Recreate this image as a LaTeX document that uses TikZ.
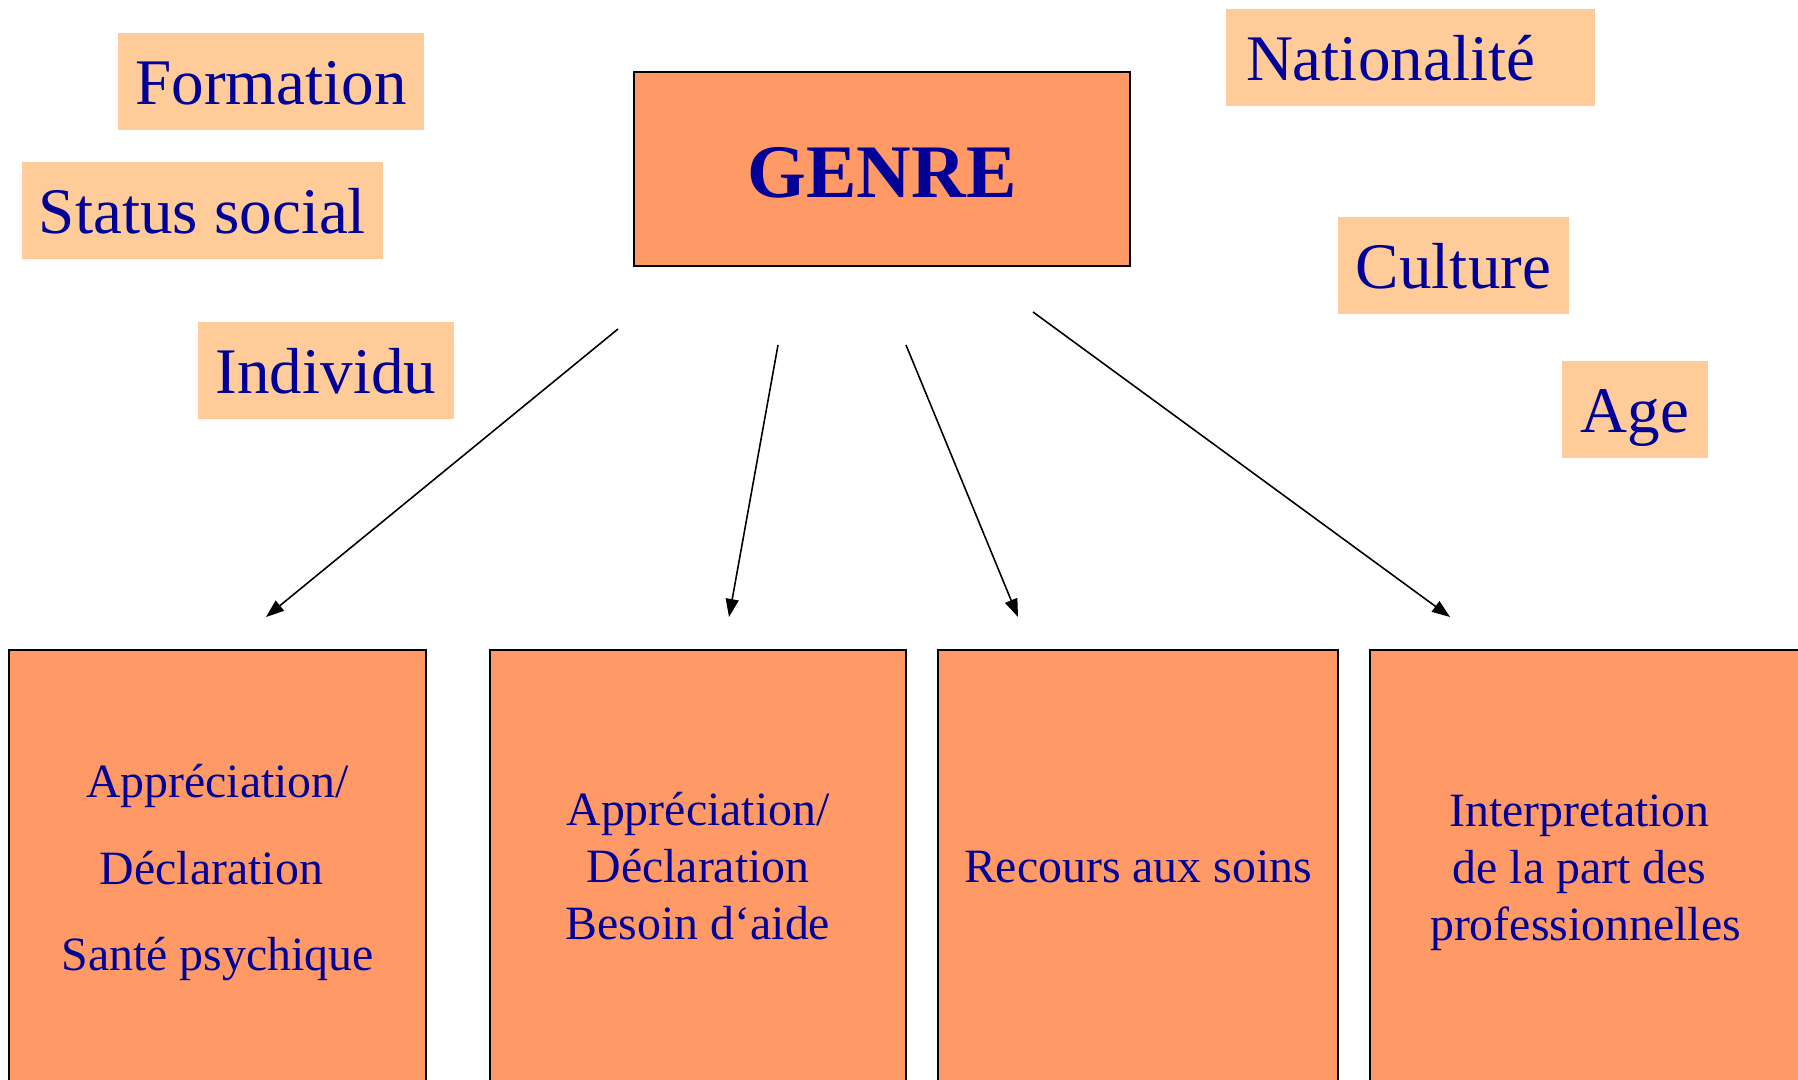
\documentclass[tikz,border=0pt]{standalone}
\usepackage{fontspec}
\setmainfont{Liberation Serif}
\usetikzlibrary{arrows.meta}

\newlength{\du}
\setlength{\du}{0.01cm}

\definecolor{boxlight}{rgb}{1.000000, 0.800000, 0.600000}
\definecolor{boxorange}{rgb}{1.000000, 0.600000, 0.400000}
\definecolor{textblue}{rgb}{0.000000, 0.000000, 0.600000}

\tikzset{
  factor/.style={fill=boxlight, text=textblue, inner sep=0pt, minimum height=97\du,
    font=\fontsize{18.5}{22}\selectfont, text height=15pt, text depth=1.8pt},
  outcome/.style={draw=black, line width=0.6pt, fill=boxorange, text=textblue,
    inner sep=0pt, anchor=north, minimum height=440\du, align=center,
    font=\fontsize{13.6}{16.2}\selectfont},
  influence/.style={line width=0.45pt, -{Triangle[length=0.18cm,width=0.13cm]}}
}

\begin{document}
\begin{tikzpicture}
\pgftransformxscale{1.000000}
\pgftransformyscale{-1.000000}
\useasboundingbox (0\du,0\du) rectangle (1798\du,1079\du);
\clip (0\du,0\du) rectangle (1798\du,1079\du);
% facteurs autour
\node[factor, minimum width=306\du] (formation) at (271\du,81.5\du) {Formation};
\node[factor, minimum width=361\du] (status) at (202.5\du,210.5\du) {Status social};
\node[factor, minimum width=256\du] (individu) at (326\du,370.5\du) {Individu};
\node[factor, minimum width=369\du, text width=329\du, align=left] (nationalite) at (1410.5\du,57.5\du) {Nationalité};
\node[factor, minimum width=231\du] (culture) at (1453.5\du,265.5\du) {Culture};
\node[factor, minimum width=146\du] (age) at (1635\du,409.5\du) {Age};
% genre
\node[draw=black, line width=0.6pt, fill=boxorange, text=textblue, inner sep=0pt,
  minimum width=496\du, minimum height=194\du, font=\fontsize{21.5}{26}\selectfont\bfseries,
  text height=18pt, text depth=2pt] (genre) at (882\du,169\du) {GENRE};
% boites du bas
\node[outcome, minimum width=417\du, minimum height=445\du, font=\fontsize{13.6}{24.5}\selectfont] (sante) at (217.5\du,649\du)
  {Appréciation/\\\hbox{Déclaration\hspace{0.25em}}\\Santé psychique};
\node[outcome, minimum width=416\du, minimum height=433\du] (besoin) at (698\du,649\du)
  {Appréciation/\\Déclaration\\Besoin d‘aide};
\node[outcome, minimum width=400\du, minimum height=433\du] (recours) at (1138\du,649\du) {Recours aux soins};
\node[outcome, minimum width=431\du, minimum height=445\du] (interpretation) at (1585.5\du,649\du)
  {\hbox{Interpretation\hspace{0.25em}}\\\hbox{de la part des\hspace{0.25em}}\\professionnelles};
% fleches
\coordinate (g1) at (618\du,329\du);
\coordinate (g2) at (778\du,345\du);
\coordinate (g3) at (906\du,345\du);
\coordinate (g4) at (1033\du,312\du);
\coordinate (o1) at (266\du,617\du);
\coordinate (o2) at (729\du,617\du);
\coordinate (o3) at (1018\du,617\du);
\coordinate (o4) at (1450\du,617\du);
\draw[influence] (g1) -- (o1);
\draw[influence] (g2) -- (o2);
\draw[influence] (g3) -- (o3);
\draw[influence] (g4) -- (o4);
\end{tikzpicture}
\end{document}
